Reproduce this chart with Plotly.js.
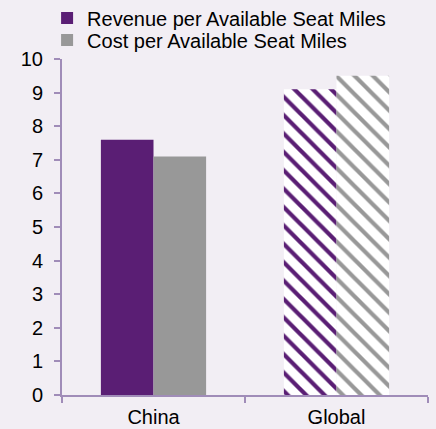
<!DOCTYPE html>
<html>
<head>
<meta charset="utf-8">
<script src="https://cdn.plot.ly/plotly-3.0.1.min.js"></script>
<style>html,body{margin:0;padding:0;background:#F2EEF4;}#chart{width:436px;height:429px;}</style>
</head>
<body>
<div id="chart"></div>
<script>
var categories = ['China', 'Global'];
var revenue = [7.6, 9.1];
var cost = [7.1, 9.5];
var yTicks = [0, 1, 2, 3, 4, 5, 6, 7, 8, 9, 10];

var purple = '#5A1E74';
var grey = '#989898';

var traces = [
  {
    type: 'bar', name: 'Revenue per Available Seat Miles',
    x: categories, y: revenue, legend: 'legend',
    marker: {
      color: purple,
      line: {width: 0},
      pattern: {shape: ['', '\\'], fgcolor: purple, bgcolor: ['rgba(0,0,0,0)', '#FFFFFF'], size: 13, solidity: 0.32, fillmode: 'replace'}
    },
    hoverinfo: 'skip'
  },
  {
    type: 'bar', name: 'Cost per Available Seat Miles',
    x: categories, y: cost, legend: 'legend2',
    marker: {
      color: grey,
      line: {width: 0},
      pattern: {shape: ['', '\\'], fgcolor: grey, bgcolor: ['rgba(0,0,0,0)', '#FFFFFF'], size: 13, solidity: 0.32, fillmode: 'replace'}
    },
    hoverinfo: 'skip'
  }
];

var axisColor = '#A08CB8';
var legendBase = {
  orientation: 'v', xref: 'container', xanchor: 'left', yref: 'container', yanchor: 'middle',
  font: {size: 20}, bgcolor: 'rgba(0,0,0,0)', itemwidth: 30, borderwidth: 0
};
var layout = {
  width: 436, height: 429,
  paper_bgcolor: '#F2EEF4', plot_bgcolor: '#F2EEF4',
  font: {family: 'Liberation Sans, Arial, sans-serif', size: 20, color: '#000000'},
  margin: {l: 62, r: 8, t: 59, b: 34, autoexpand: false},
  barmode: 'group', bargap: 0.425, bargroupgap: 0,
  showlegend: true,
  legend: Object.assign({}, legendBase, {x: 0.108, y: 0.958}),
  legend2: Object.assign({}, legendBase, {x: 0.108, y: 0.907}),
  xaxis: {
    showline: true, linecolor: axisColor, linewidth: 2,
    ticks: 'outside', tickson: 'boundaries', ticklen: 6, tickcolor: axisColor, tickwidth: 2,
    ticklabelstandoff: 3,
    showgrid: false, zeroline: false, fixedrange: true,
    tickfont: {size: 20}
  },
  yaxis: {
    range: [0, 10], tickvals: yTicks, ticktext: yTicks.map(String),
    showline: true, linecolor: axisColor, linewidth: 2,
    ticks: 'outside', ticklen: 6, tickcolor: axisColor, tickwidth: 2,
    ticklabelstandoff: 7,
    showgrid: false, zeroline: false, fixedrange: true,
    tickfont: {size: 20}
  }
};

Plotly.newPlot('chart', traces, layout, {displayModeBar: false, staticPlot: true});
</script>
</body>
</html>
